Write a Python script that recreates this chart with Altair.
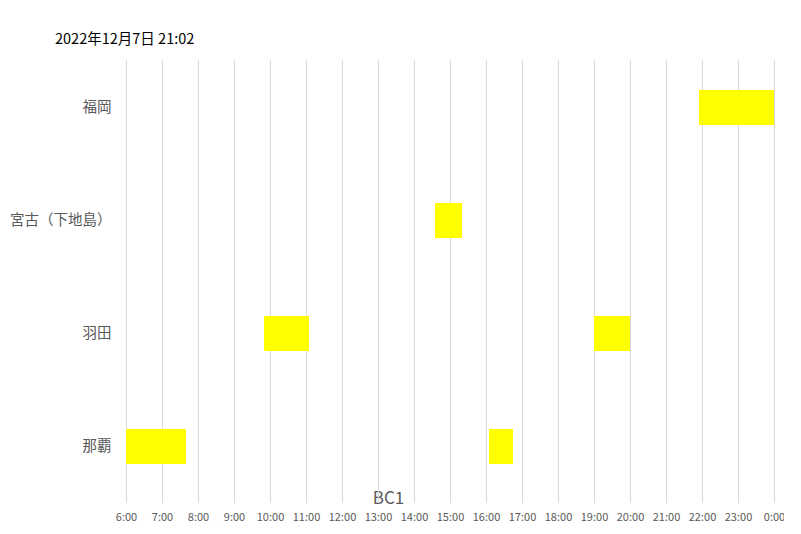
import altair as alt
import pandas as pd

# Data
routes = ["那覇", "那覇", "羽田", "羽田", "宮古（下地島）", "福岡"]
starts = ["6:00", "16:05", "9:50", "19:00", "14:35", "21:55"]
ends = ["7:40", "16:45", "11:05", "20:00", "15:20", "24:00"]
route_order = ["福岡", "宮古（下地島）", "羽田", "那覇"]
hour_ticks = list(range(6, 25))
title_text = "2022年12月7日 21:02"
axis_title = "BC1"


def to_hours(s):
    h, m = s.split(":")
    return int(h) + int(m) / 60.0


df = pd.DataFrame({
    "route": routes,
    "start": [to_hours(s) for s in starts],
    "end": [to_hours(s) for s in ends],
})
grid_df = pd.DataFrame({"start": hour_ticks})

FONT = "Noto Sans CJK JP"
GRAY = "#595959"

x_scale = alt.Scale(domain=[6, 24], nice=False, zero=False)
x_axis = alt.Axis(
    values=hour_ticks,
    labelExpr="(datum.value % 24) + ':00'",
    labelFlush=False,
    labelOverlap=False,
    labelBound=False,
    grid=False,
    domain=False,
    ticks=False,
    labelColor=GRAY,
    labelFont=FONT,
    labelFontSize=11,
    labelPadding=8,
    title=axis_title,
    titleFont=FONT,
    titleFontSize=17,
    titleFontWeight="normal",
    titleColor=GRAY,
    titleX=262,
    titleY=-5,
    titleBaseline="middle",
    titleAnchor="start",
    titleAlign="center",
)

grid = alt.Chart(grid_df).mark_rule(color="#d9d9d9", strokeWidth=1, xOffset=0.5).encode(
    x=alt.X("start:Q", scale=x_scale, axis=x_axis),
    y=alt.value(9),
    y2=alt.value(452),
)

bars = alt.Chart(df).mark_bar(color="#FFFF00", size=35).encode(
    x=alt.X("start:Q", scale=x_scale, axis=x_axis),
    x2="end:Q",
    y=alt.Y(
        "route:N",
        sort=route_order,
        scale=alt.Scale(domain=route_order),
        axis=alt.Axis(
            title=None,
            domain=False,
            ticks=False,
            grid=False,
            labelColor=GRAY,
            labelFont=FONT,
            labelFontSize=14.5,
            labelPadding=15,
        ),
    ),
)

chart = alt.layer(grid, bars).properties(
    width=648,
    height=452,
    title=alt.Title(
        title_text,
        anchor="start",
        frame="group",
        dx=-71,
        dy=16,
        offset=13,
        baseline="middle",
        font=FONT,
        fontSize=14.5,
        fontWeight="normal",
        color="black",
    ),
    autosize=alt.AutoSizeParams(type="none"),
    padding={"left": 118, "top": 43, "right": 10, "bottom": 22},
).configure(background="white").configure_view(stroke=None)

chart.save("out.html", embed_options={"renderer": "svg", "actions": False})
